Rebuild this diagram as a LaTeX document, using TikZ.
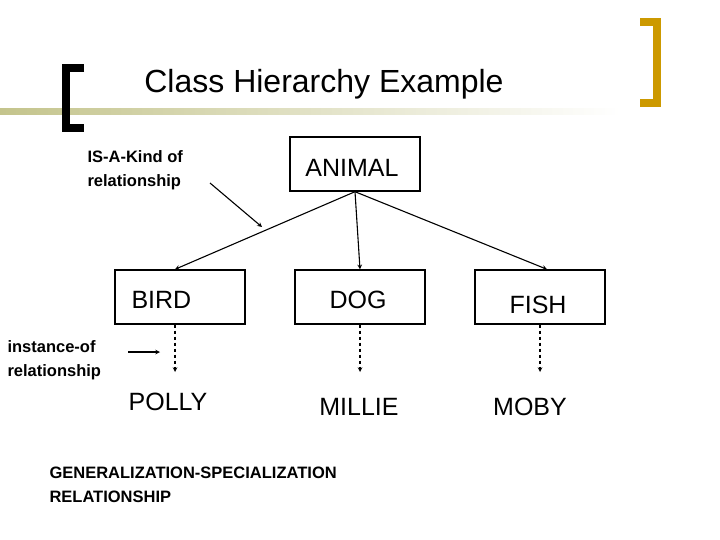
\documentclass[tikz,border=0pt]{standalone}
\usepackage{fontspec}
\setmainfont{Liberation Sans}
\usetikzlibrary{arrows,positioning}
\definecolor{gold}{RGB}{204,153,0}
\definecolor{olive}{RGB}{196,196,140}
\tikzset{
  classbox/.style={draw, line width=1.4pt, minimum width=130pt, minimum height=54pt},
  inst/.style={font=\fontsize{25}{28}\selectfont},
  note/.style={font=\bfseries\fontsize{16.5}{24}\selectfont, align=left, anchor=west},
  link/.style={line width=1.1pt, -stealth},
}
\begin{document}
\begin{tikzpicture}[x=1pt,y=-1pt]
\useasboundingbox (0,0) rectangle (720,540);
% Title bar
\shade[left color=olive, right color=white] (0,109) rectangle (620,115);
\draw[line width=8pt] (84,68) -- (66,68) -- (66,128) -- (84,128);
\draw[gold, line width=8pt] (640,22) -- (657,22) -- (657,103) -- (640,103);
\node (title) at (324,84) {\fontsize{32}{34}\selectfont Class Hierarchy Example};
% Classes
\node[classbox] (animal) at (355,164) {}; 
\node[inst] at (352,168) {ANIMAL};
\node[classbox] (bird) at (180,297) {};
\node[inst, anchor=west] at (128,300) {BIRD};
\node[classbox] (dog) at (360,297) {};
\node[inst] at (358,300) {DOG};
\node[classbox] (fish) at (540,297) {};
\node[inst] at (538,305) {FISH};
% Instances
\node[inst] (polly) at (168,402) {POLLY};
\node[inst] (millie) at (359,407) {MILLIE};
\node[inst] (moby) at (530,407) {MOBY};
\coordinate (pollyend) at (175,372);
\coordinate (millieend) at (360,372);
\coordinate (mobyend) at (540,372);
% Generalization arrows
\draw[link] (animal.south) -- ([xshift=-5pt]bird.north);
\draw[link] (animal.south) -- (dog.north);
\draw[link] (animal.south) -- ([xshift=7pt]fish.north);
% Instance arrows
\draw[link, dashed] ([xshift=-5pt]bird.south) -- (pollyend);
\draw[link, dashed] (dog.south) -- (millieend);
\draw[link, dashed] (fish.south) -- (mobyend);
% Notes
\node[note] (isa) at (84,170) {IS-A-Kind of\\relationship};
\coordinate (isaend) at (262,227);
\draw[link] (210,183) -- (isaend);
\node[note] (instof) at (4,360) {instance-of\\relationship};
\coordinate (instend) at (160,352);
\draw[link] (128,352) -- (instend);
\node[note] (genspec) at (46,485) {GENERALIZATION-SPECIALIZATION\\RELATIONSHIP};
\end{tikzpicture}
\end{document}
